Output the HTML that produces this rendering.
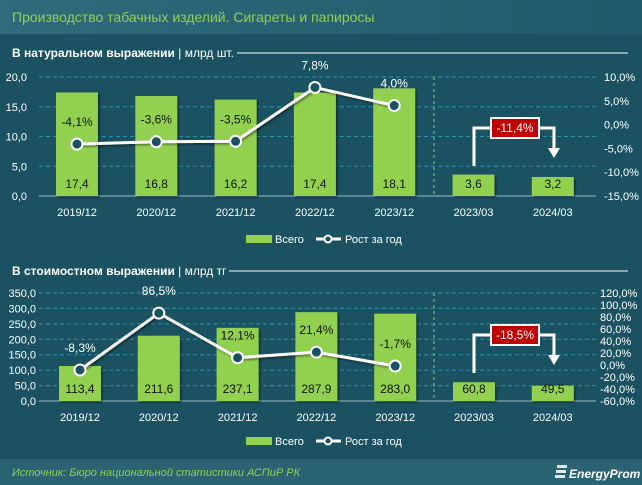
<!DOCTYPE html>
<html><head><meta charset="utf-8"><style>
html,body{margin:0;padding:0;width:642px;height:485px;overflow:hidden;background:#1a5262;}
svg{display:block;font-family:"Liberation Sans Narrow","Liberation Sans",sans-serif;}
</style></head><body>
<svg id="s" width="642" height="485" viewBox="0 0 642 485">
<defs><linearGradient id="hg" x1="0" x2="1" y1="0" y2="0"><stop offset="0" stop-color="#2f6b7a"/><stop offset="1" stop-color="#1f5a69"/></linearGradient>
<filter id="sh"><feDropShadow dx="1.5" dy="1.5" stdDeviation="1" flood-color="#000" flood-opacity="0.45"/></filter></defs>
<rect x="0" y="0" width="642" height="485" fill="#1a5262"/>
<rect x="0" y="0" width="642" height="34" fill="url(#hg)"/>
<text x="12" y="22" fill="#8fd14f" font-size="14">Производство табачных изделий. Сигареты и папиросы</text>
<rect x="0" y="459" width="642" height="26" fill="#2a6472"/>
<text x="12" y="476" fill="#8fd14f" font-size="11" font-style="italic">Источник: Бюро национальной статистики АСПиР РК</text>
<g><rect x="557" y="465" width="10" height="3" fill="#fff" opacity="0.85"/><rect x="556" y="470" width="10" height="3" fill="#fff" opacity="0.85"/><rect x="555" y="475" width="10" height="3" fill="#fff" opacity="0.85"/>
<text x="569" y="478" fill="#fff" font-size="12" font-weight="bold" font-style="italic">EnergyProm</text></g>
<g id="c1"></g><g id="c2"></g>
</svg>
<script>
const categories=["2019/12","2020/12","2021/12","2022/12","2023/12","2023/03","2024/03"];
const volumeValues=[17.4,16.8,16.2,17.4,18.1,3.6,3.2];
const volumeGrowth=[-4.1,-3.6,-3.5,7.8,4.0];
const volumeLeftTicks=[0,5,10,15,20];
const volumeRightTicks=[-15,-10,-5,0,5,10];
const volumeQuarterChange=-11.4;
const valueValues=[113.4,211.6,237.1,287.9,283.0,60.8,49.5];
const valueGrowth=[-8.3,86.5,12.1,21.4,-1.7];
const valueLeftTicks=[0,50,100,150,200,250,300,350];
const valueRightTicks=[-60,-40,-20,0,20,40,60,80,100,120];
const valueQuarterChange=-18.5;

const NS="http://www.w3.org/2000/svg";
function mk(p,t,a,txt){const e=document.createElementNS(NS,t);for(const k in a)e.setAttribute(k,a[k]);if(txt!==undefined)e.textContent=txt;p.appendChild(e);return e;}
const fmt=(v,d)=>v.toFixed(d).replace('.',',');

function draw(g,o){
  const yL=v=>o.y0-(v-o.lmin)/(o.lmax-o.lmin)*(o.y0-o.y1);
  const yR=v=>o.y0-(v-o.rmin)/(o.rmax-o.rmin)*(o.y0-o.y1);
  const xC=i=>o.x0+i*o.dx;
  let t=mk(g,'text',{x:12,y:o.ty,fill:'#fff','font-size':12,'font-weight':'bold'},o.title);
  
  let tu=mk(t,'tspan',{'font-weight':'normal'},o.unit);
  let l=mk(g,'line',{x1:o.lineX,x2:628,y1:o.ty-4,y2:o.ty-4,stroke:'#fff','stroke-width':1});
  
  o.lt.forEach(v=>{
    if(v!==o.lmin){let gl=mk(g,'line',{x1:39,x2:596,y1:yL(v),y2:yL(v),stroke:'#2d8fa8','stroke-dasharray':'4,3','stroke-width':1});
    }
    let tx=mk(g,'text',{x:o.lx,y:yL(v)+4,fill:'#fff','font-size':11,'text-anchor':'end'},fmt(v,1));
    
  });
  o.rt.forEach(v=>{let tx=mk(g,'text',{x:o.rx,y:yR(v)+4,fill:'#fff','font-size':11},fmt(v,1)+'%');
    });
  let ax=mk(g,'line',{x1:39,x2:596,y1:o.y0,y2:o.y0,stroke:'#9ab8c0','stroke-width':1});
  
  let dv=mk(g,'line',{x1:434,x2:434,y1:o.y1,y2:o.y0,stroke:'#8fd14f','stroke-dasharray':'3,3','stroke-width':1});
  
  o.vals.forEach((v,i)=>{
    let b=mk(g,'rect',{x:xC(i)-21,y:yL(v),width:42,height:o.y0-yL(v),fill:'#92d050',filter:'url(#sh)'});
    
    let vl=mk(g,'text',{x:xC(i),y:o.y0-8,fill:'#111','font-size':12,'text-anchor':'middle'},fmt(v,1));
    
    let cl=mk(g,'text',{x:xC(i),y:o.y0+20,fill:'#fff','font-size':11,'text-anchor':'middle'},categories[i]);
    
  });
  const pts=o.gr.map((v,i)=>xC(i)+','+yR(v)).join(' ');
  let pl=mk(g,'polyline',{points:pts,fill:'none',stroke:'#fff','stroke-width':3,filter:'url(#sh)'});
  
  o.gr.forEach((v,i)=>{
    let c=mk(g,'circle',{cx:xC(i),cy:yR(v),r:5.5,fill:'#1a5262',stroke:'#fff','stroke-width':2});
    
    const by=yR(v)-o.labOff;
    let gl=mk(g,'text',{x:xC(i),y:by,fill:(by-5<yL(o.vals[i]))?'#fff':'#111','font-size':12,'text-anchor':'middle'},fmt(v,1)+'%');
    
  });
  const bx1=474,bx2=554,by=o.by;
  let br=mk(g,'polyline',{points:`${bx1},${by+38} ${bx1},${by} ${bx2},${by} ${bx2},${by+22}`,fill:'none',stroke:'#fff','stroke-width':3});
  
  let ar=mk(g,'polygon',{points:`${bx2-6},${by+20} ${bx2+6},${by+20} ${bx2},${by+30}`,fill:'#fff'});
  
  let rb=mk(g,'rect',{x:491,y:by-10,width:48,height:20,fill:'#c00000',stroke:'#fff','stroke-width':2});
  
  let rt=mk(g,'text',{x:515,y:by+4,fill:'#fff','font-size':12,'text-anchor':'middle'},fmt(o.qc,1)+'%');
  
  let lr=mk(g,'rect',{x:246,y:o.ly-4,width:26,height:8,fill:'#92d050'});
  
  let lt=mk(g,'text',{x:275,y:o.ly+4,fill:'#fff','font-size':11},'Всего');
  
  let ll=mk(g,'line',{x1:316,x2:341,y1:o.ly,y2:o.ly,stroke:'#fff','stroke-width':3});
  
  let lc=mk(g,'circle',{cx:328,cy:o.ly,r:3.5,fill:'#1a5262',stroke:'#fff','stroke-width':2});
  
  let lt2=mk(g,'text',{x:345,y:o.ly+4,fill:'#fff','font-size':11},'Рост за год');
  
}
draw(document.getElementById('c1'),{title:'В натуральном выражении ',unit:'| млрд шт.',ty:57,lineX:237,
  y0:196,y1:77,lmin:0,lmax:20,rmin:-15,rmax:10,lt:volumeLeftTicks,rt:volumeRightTicks,lx:27,rx:604,
  x0:77,dx:79.3,vals:volumeValues,gr:volumeGrowth,labOff:18,qc:volumeQuarterChange,by:128,ly:239});
draw(document.getElementById('c2'),{title:'В стоимостном выражении ',unit:'| млрд тг',ty:275,lineX:229,
  y0:401,y1:293,lmin:0,lmax:350,rmin:-60,rmax:120,lt:valueLeftTicks,rt:valueRightTicks,lx:36,rx:600,
  x0:80,dx:78.8,vals:valueValues,gr:valueGrowth,labOff:18,qc:valueQuarterChange,by:335,ly:441});
</script>
</body></html>
